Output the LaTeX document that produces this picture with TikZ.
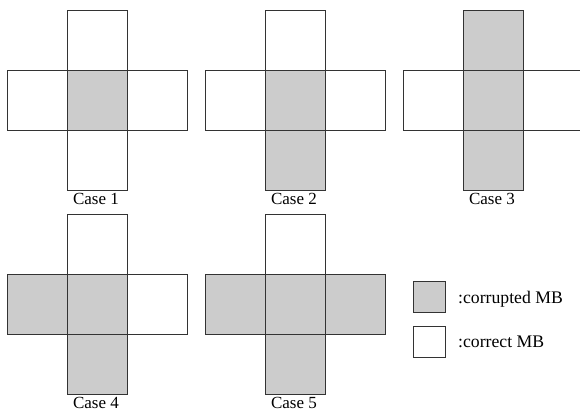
\documentclass[tikz,border=0pt]{standalone}
\usepackage{fontspec}
\setmainfont{Liberation Serif}
\definecolor{mbgray}{HTML}{CCCCCC}
\definecolor{mbline}{HTML}{333333}
\tikzset{
  cell/.style={draw=mbline, line width=0.8pt, rectangle, minimum width=60pt, minimum height=60pt, inner sep=0pt, anchor=north west},
  bad/.style={cell, fill=mbgray},
  good/.style={cell, fill=white},
  lab/.style={font=\fontsize{17}{20}\selectfont, anchor=base, inner sep=0pt},
  legbox/.style={draw=mbline, line width=0.8pt, rectangle, minimum width=32pt, minimum height=31pt, inner sep=0pt, anchor=north west},
  legtext/.style={font=\fontsize{17.7}{21}\selectfont, anchor=base west, inner sep=0pt}
}
% #1 name, #2 x of centre cell left, #3 y of top cell top, #4..#8 styles top,left,centre,right,bottom, #9 label
\newcommand{\mbcross}[9]{%
  \node[#5] (#1l) at (#2-60,#3+60) {};
  \node[#7] (#1r) at (#2+60,#3+60) {};
  \node[#4] (#1t) at (#2,#3) {};
  \node[#8] (#1b) at (#2,#3+120) {};
  \node[#6] (#1c) at (#2,#3+60) {};
  \node[lab] (#1lab) at (#2+29,#3+194) {#9};
}
\begin{document}
\begin{tikzpicture}[x=1pt,y=-1pt]
\useasboundingbox (0,0) rectangle (580,412);
\mbcross{a}{67}{10}{good}{good}{bad}{good}{good}{Case 1}
\mbcross{b}{265}{10}{good}{good}{bad}{good}{bad}{Case 2}
\mbcross{c}{463}{10}{bad}{good}{bad}{good}{bad}{Case 3}
\mbcross{d}{67}{214}{good}{bad}{bad}{good}{bad}{Case 4}
\mbcross{e}{265}{214}{good}{bad}{bad}{bad}{bad}{Case 5}
\node[legbox, fill=mbgray] (lg1) at (413,281) {};
\node[legbox, fill=white] (lg2) at (413,326) {};
\node[legtext] (lt1) at (458,303) {:corrupted MB};
\node[legtext] (lt2) at (458,347) {:correct MB};
\end{tikzpicture}
\end{document}
